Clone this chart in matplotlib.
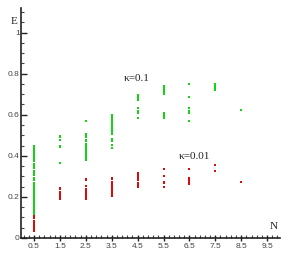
import matplotlib
matplotlib.use("Agg")
import matplotlib.pyplot as plt
from matplotlib.ticker import MultipleLocator, FixedLocator

# E values per N column
N_cols = [0.5, 1.5, 2.5, 3.5, 4.5, 5.5, 6.5, 7.5, 8.5]

green = {
    0.5: [0.11, 0.12, 0.13, 0.14, 0.15, 0.16, 0.17, 0.18, 0.19, 0.20, 0.21, 0.22,
          0.23, 0.24, 0.25, 0.26, 0.27, 0.28, 0.29, 0.305, 0.315, 0.325, 0.34,
          0.35, 0.36, 0.375, 0.385, 0.39, 0.40, 0.41, 0.415, 0.425, 0.435, 0.44, 0.449],
    1.5: [0.365, 0.445, 0.45, 0.475, 0.49, 0.498],
    2.5: [0.38, 0.39, 0.40, 0.41, 0.42, 0.43, 0.44, 0.45, 0.46, 0.47, 0.478,
          0.49, 0.50, 0.507, 0.57],
    3.5: [0.437, 0.454, 0.47, 0.484, 0.504, 0.513, 0.52, 0.53, 0.54, 0.546,
          0.555, 0.565, 0.575, 0.585, 0.595, 0.60],
    4.5: [0.584, 0.61, 0.62, 0.634, 0.67, 0.68, 0.69, 0.698],
    5.5: [0.584, 0.595, 0.605, 0.611, 0.702, 0.712, 0.722, 0.73, 0.738],
    6.5: [0.571, 0.61, 0.62, 0.634, 0.686, 0.75],
    7.5: [0.72, 0.73, 0.74, 0.75],
    8.5: [0.624],
}

red = {
    0.5: [0.036, 0.045, 0.055, 0.065, 0.075, 0.085, 0.095, 0.107],
    1.5: [0.19, 0.198, 0.21, 0.218, 0.226, 0.238, 0.245],
    2.5: [0.19, 0.20, 0.21, 0.22, 0.23, 0.24, 0.254, 0.28, 0.288],
    3.5: [0.205, 0.215, 0.225, 0.235, 0.245, 0.255, 0.265, 0.275, 0.285, 0.293],
    4.5: [0.25, 0.26, 0.27, 0.28, 0.29, 0.30, 0.31, 0.317],
    5.5: [0.247, 0.267, 0.275, 0.304, 0.335],
    6.5: [0.263, 0.272, 0.283, 0.294, 0.337],
    7.5: [0.327, 0.353],
    8.5: [0.272],
}

x_ticks = [0.5, 1.5, 2.5, 3.5, 4.5, 5.5, 6.5, 7.5, 8.5, 9.5]
y_ticks = [0, 0.2, 0.4, 0.6, 0.8, 1]
y_labels = ["0", "0.2", "0.4", "0.6", "0.8", "1"]

GREEN = "#14d214"
RED = "#dc0a0a"

fig = plt.figure(figsize=(2.89, 2.57), dpi=100)
ax = fig.add_axes([0.073, 0.074, 0.896, 0.895])

for n in N_cols:
    ax.plot([n] * len(green[n]), green[n], "s", color=GREEN, ms=1.5, mew=0)
    ax.plot([n] * len(red[n]), red[n], "s", color=RED, ms=1.5, mew=0)

ax.set_xlim(0, 10)
ax.set_ylim(0, 1.12)

ax.spines["top"].set_visible(False)
ax.spines["right"].set_visible(False)
for s in ["left", "bottom"]:
    ax.spines[s].set_linewidth(1.2)
    ax.spines[s].set_color("#222222")

ax.xaxis.set_major_locator(FixedLocator(x_ticks))
ax.xaxis.set_minor_locator(FixedLocator([0.1 + 0.2 * i for i in range(50) if abs((0.1 + 0.2 * i - 0.5) % 1) > 0.05 and 0.1 + 0.2 * i < 10]))
ax.set_yticks(y_ticks)
ax.set_yticklabels(y_labels)
ax.yaxis.set_minor_locator(MultipleLocator(0.05))

ax.tick_params(axis="both", which="major", labelsize=6, labelcolor="#444444",
               color="#222222", width=1, length=4, pad=1)
ax.tick_params(axis="x", which="major", direction="inout", length=5)
ax.tick_params(axis="y", which="major", direction="in")
ax.tick_params(which="minor", direction="in", length=2, width=0.8, color="#444444")
for lab in ax.get_xticklabels() + ax.get_yticklabels():
    lab.set_fontfamily("Liberation Sans")

serif = dict(family="Liberation Serif", color="#222222")
ax.text(3.97, 0.775, "κ=0.1", fontsize=8, va="center", **serif)
ax.text(6.08, 0.395, "κ=0.01", fontsize=8, va="center", **serif)
ax.text(-0.29, 1.055, "E", fontsize=8, va="center", ha="center", clip_on=False, **serif)
ax.text(9.75, 0.055, "N", fontsize=8, va="center", ha="center", **serif)

fig.savefig("out.png", dpi=100)
